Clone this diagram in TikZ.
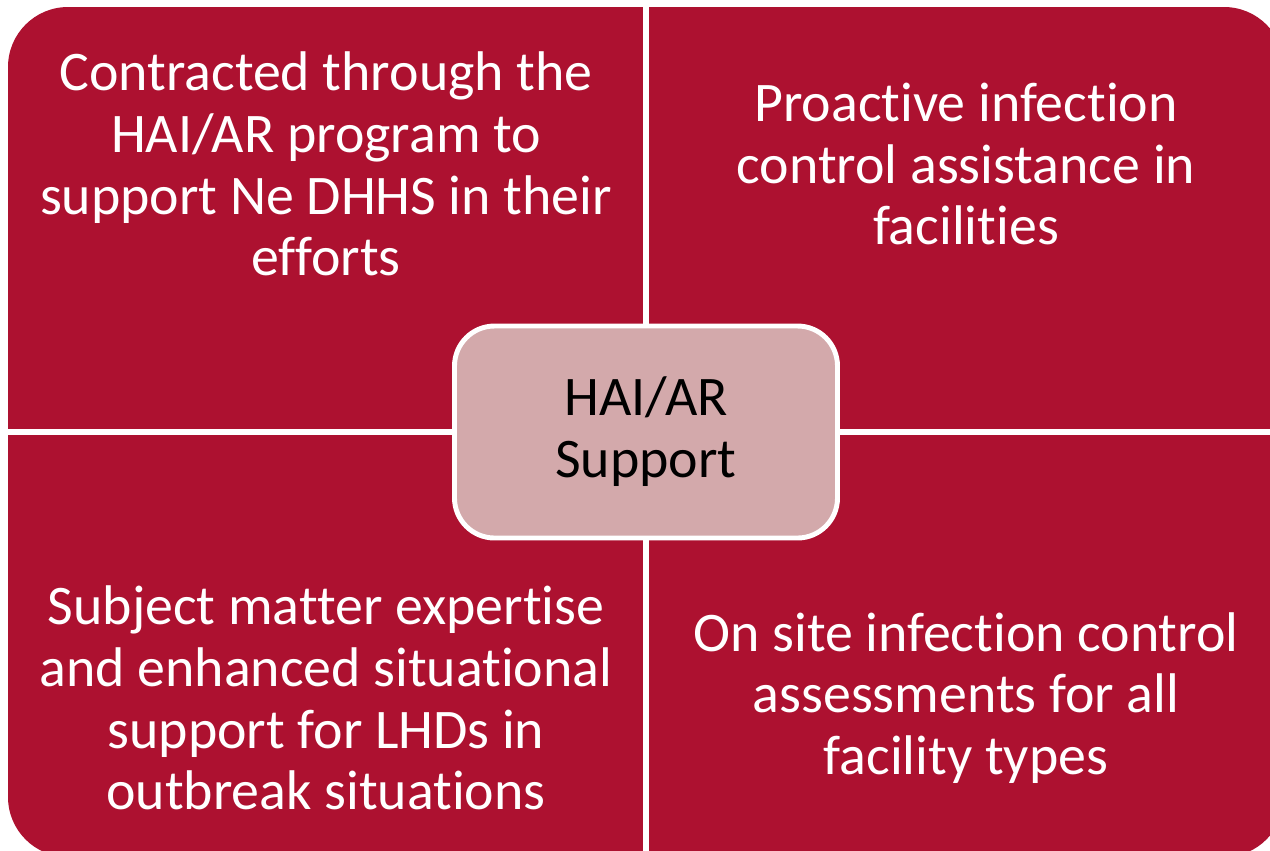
\documentclass[tikz,border=0pt]{standalone}
\usepackage{fontspec}
\setmainfont{Carlito}[Ligatures={NoCommon}]
\definecolor{quadred}{HTML}{AD1130}
\definecolor{centerpink}{HTML}{D3A9AB}
\tikzset{
  quadtext/.style={text=white, align=center, font=\fontsize{31.8}{35.2}\selectfont, inner sep=0pt},
  centerbox/.style={fill=centerpink, draw=white, line width=2.8pt, rounded corners=0.8cm,
    minimum width=383*0.02cm, minimum height=212*0.02cm, align=center,
    font=\fontsize{31.8}{35.2}\selectfont, text=black},
  gapline/.style={draw=white, line width=3.4pt}
}
\begin{document}
\begin{tikzpicture}[x=0.02cm, y=-0.02cm]
\useasboundingbox (0,0) rectangle (1270,850);
\begin{scope}
\clip (0,0) rectangle (1270,850);
\fill[quadred, rounded corners=1.2cm] (8,7) rectangle (1284,857);
\draw[gapline] (646,0) -- (646,860);
\draw[gapline] (0,432) -- (1290,432);
\end{scope}
\node[quadtext] (tl) at (326,164) {Contracted through the\\HAI/AR program to\\support Ne DHHS in their\\efforts};
\node[quadtext] (tr) at (966,164) {Proactive infection\\control assistance in\\facilities};
\node[quadtext] (bl) at (326,698) {Subject matter expertise\\and enhanced situational\\support for LHDs in\\outbreak situations};
\node[quadtext] (br) at (966,698) {On site infection control\\assessments for all\\facility types};
\node[centerbox] (c) at (646,432) {HAI/AR\\Support};
\end{tikzpicture}
\end{document}
